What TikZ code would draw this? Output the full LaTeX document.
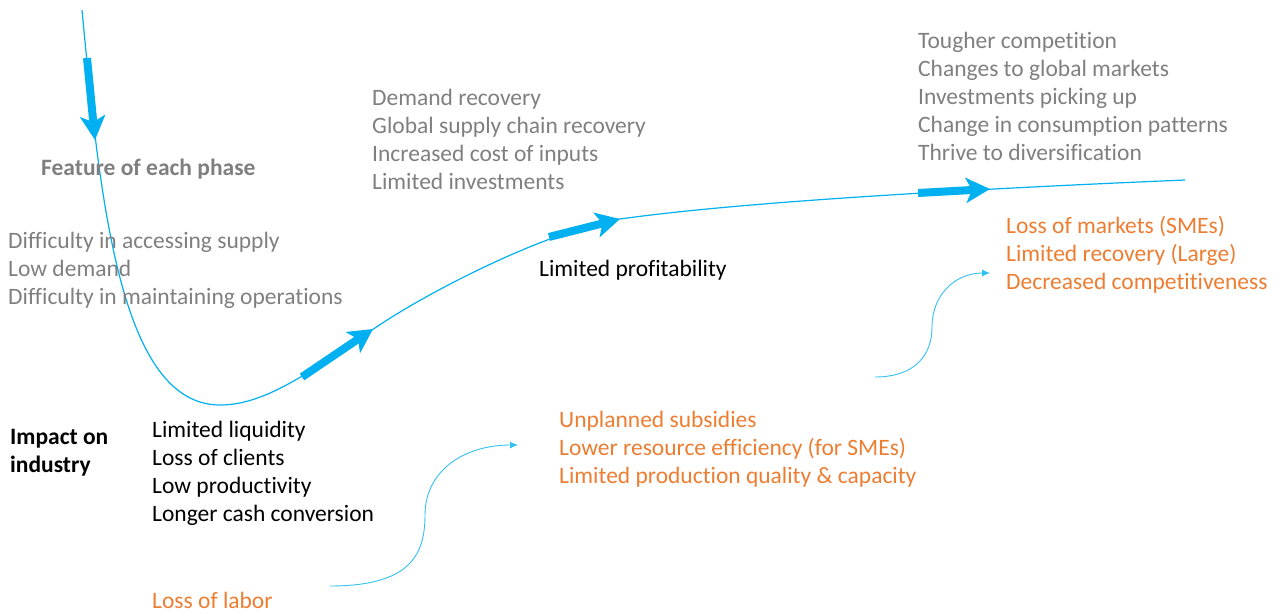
\documentclass[tikz,border=0pt]{standalone}
\usepackage{fontspec}
\setmainfont{Carlito}[Ligatures=NoCommon]
\usetikzlibrary{arrows.meta}
\definecolor{curveblue}{RGB}{0,176,240}
\definecolor{txtgray}{RGB}{127,127,127}
\definecolor{txtorange}{RGB}{237,125,49}
\newcommand\txtblock[1]{\begin{tabular}[t]{@{}l@{}}#1\end{tabular}}
\tikzset{
  lbl/.style={anchor=base west, inner sep=0pt, font=\fontsize{23.5pt}{28pt}\selectfont},
  graytxt/.style={lbl, text=txtgray},
  blacktxt/.style={lbl, text=black},
  orangetxt/.style={lbl, text=txtorange},
  maincurve/.style={draw=curveblue, line width=1.2pt},
  phasearrow/.style={draw=curveblue, line width=8pt, -{Stealth[length=24pt,width=25pt,inset=6pt]}},
  linkcurve/.style={draw=curveblue!80, line width=0.9pt, -{Latex[length=8pt,width=7pt]}}
}
\begin{document}
\begin{tikzpicture}[x=1pt,y=-1pt]
\useasboundingbox (0,0) rectangle (1279,613);
% coordinates along the curve
\coordinate (c0) at (82,10);
\coordinate (c1) at (220,405);
\coordinate (c2) at (372,330);
\coordinate (c3) at (620,219);
\coordinate (c4) at (1185,180);
\draw[maincurve] (c0) .. controls (100,200) and (120,405) .. (c1)
  .. controls (260,405) and (300,380) .. (c2)
  .. controls (430,290) and (550,230) .. (c3)
  .. controls (720,205) and (900,192) .. (c4);
% phase arrows
\coordinate (a1s) at (87,58);   \coordinate (a1e) at (95,140);
\coordinate (a2s) at (302,377); \coordinate (a2e) at (373,329);
\coordinate (a3s) at (549,237); \coordinate (a3e) at (620,219);
\coordinate (a4s) at (918,193); \coordinate (a4e) at (990,189);
\draw[phasearrow] (a1s) -- (a1e);
\draw[phasearrow] (a2s) -- (a2e);
\draw[phasearrow] (a3s) -- (a3e);
\draw[phasearrow] (a4s) -- (a4e);
% texts
\node[lbl, text=txtgray, font=\fontsize{23.5pt}{28pt}\selectfont\bfseries] (feat) at (41,175) {Feature of each phase};
\node[graytxt] (ph1) at (8,248) {\txtblock{Difficulty in accessing supply\\Low demand\\Difficulty in maintaining operations}};
\node[lbl, text=black, font=\fontsize{23.5pt}{28pt}\selectfont\bfseries] (impact) at (10,444) {\txtblock{Impact on\\industry}};
\node[blacktxt] (imp1) at (152,437) {\txtblock{Limited liquidity\\Loss of clients\\Low productivity\\Longer cash conversion}};
\node[orangetxt] (labor) at (152,608) {Loss of labor};
\node[graytxt] (ph2) at (372,105) {\txtblock{Demand recovery\\Global supply chain recovery\\Increased cost of inputs\\Limited investments}};
\node[blacktxt] (imp2) at (539,276) {Limited profitability};
\node[orangetxt] (or2) at (559,427) {\txtblock{Unplanned subsidies\\Lower resource efficiency (for SMEs)\\Limited production quality \& capacity}};
\node[graytxt] (ph3) at (918,48) {\txtblock{Tougher competition\\Changes to global markets\\Investments picking up\\Change in consumption patterns\\Thrive to diversification}};
\node[orangetxt] (or3) at (1006,233) {\txtblock{Loss of markets (SMEs)\\Limited recovery (Large)\\Decreased competitiveness}};
% link curves
\coordinate (l1s) at (330,586);
\coordinate (l1e) at (518,445);
\coordinate (l2s) at (875,377);
\coordinate (l2e) at (990,273);
\draw[linkcurve] (l1s) .. controls (410,586) and (425,555) .. (425,515)
  .. controls (425,470) and (465,445) .. (l1e);
\draw[linkcurve] (l2s) .. controls (915,377) and (932,355) .. (932,327)
  .. controls (932,295) and (955,273) .. (l2e);
\end{tikzpicture}
\end{document}
